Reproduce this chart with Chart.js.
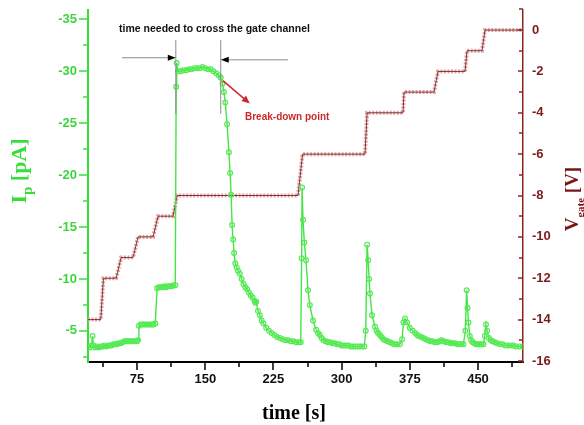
<!DOCTYPE html>
<html>
<head>
<meta charset="utf-8">
<script src="https://cdn.jsdelivr.net/npm/chart.js@4"></script>
<style>
  html, body { margin:0; padding:0; background:#fff; }
  #wrap { width:584px; height:425px; position:relative; }
</style>
</head>
<body>
<div id="wrap"><canvas id="chart"></canvas></div>
<script>
// photocurrent I_p [pA] (green trace)
const currentTime = [
  21,23,25,26,27,29,31,33,35,37,39,41,43,45,47,49,51,53,55,57,59,61,63,65,67,69,71,73,75,
  76,77,79,81,83,85,87,89,91,93,95,
  97,99,101,103,105,107,109,111,113,115,117,
  118,118.5,120,123,126,129,132,135,138,141,144,147,150,153,156,159,162,165,167,
  169,170.5,172,174,176,177.3,178.4,179.5,180.6,181.7,183,184.5,186,188,190,192,194,196,198,200,
  202,204,205,206,208,210,212,214,217,220,223,226,229,232,235,238,241,244,247,250,253,255,
  256,256.5,257.5,259,260.8,263,265,268.5,272,274,276,278,280,282.5,285,287.5,290,292.5,295,297.5,300,302.5,305,307.5,310,312.5,315,317.5,320,322.5,325,
  326.5,328,329.2,330.2,331.2,333.4,336.7,338.5,340,342,344,346,348,350.5,353,355.5,358,361,364,
  366.5,368,369.7,372,375,378,381,383,385,387.5,390,392.5,395,397.5,400,402.5,405,407.5,410,412.5,415,417.5,420,422.5,425,427.5,430,432,434,
  436,437.5,438.5,439.5,441,442.5,444,446,448,450,452,454,456,
  457.5,458.8,460,462,464,466,468.5,471,474,477,480,483,486,489,492,495.5,499
];
const currentValues = [
  -3.5,-3.4,-3.6,-4.5,-3.6,-3.4,-3.5,-3.4,-3.5,-3.5,-3.6,-3.5,-3.6,-3.6,-3.6,-3.7,-3.7,-3.7,-3.8,-3.8,-3.9,-4.0,-4.0,-4.0,-4.0,-4.0,-4.0,-4.0,-4.0,
  -4.1,-5.5,-5.6,-5.6,-5.6,-5.6,-5.6,-5.6,-5.6,-5.6,-5.7,
  -9.1,-9.2,-9.2,-9.2,-9.3,-9.2,-9.3,-9.3,-9.3,-9.4,-9.4,
  -28.5,-30.8,-30.0,-30.0,-30.1,-30.1,-30.2,-30.2,-30.3,-30.3,-30.3,-30.4,-30.3,-30.2,-30.2,-30.0,-29.8,-29.6,-29.4,
  -28.8,-28.0,-27.0,-24.9,-22.2,-20.2,-18.1,-15.2,-13.8,-12.5,-11.5,-11.1,-10.8,-10.5,-10.0,-9.5,-9.2,-9.0,-8.7,-8.4,
  -8.2,-7.9,-7.7,-7.8,-6.9,-6.5,-6.0,-5.7,-5.3,-5.0,-4.8,-4.6,-4.4,-4.3,-4.2,-4.1,-4.1,-4.0,-4.0,-3.9,-3.9,-3.9,
  -12.0,-18.8,-15.7,-13.5,-11.8,-8.9,-7.5,-6.0,-5.1,-4.8,-4.6,-4.3,-4.1,-4.0,-3.9,-3.9,-3.8,-3.8,-3.7,-3.7,-3.6,-3.6,-3.6,-3.6,-3.5,-3.5,-3.5,-3.5,-3.5,-3.5,-3.5,
  -5.0,-13.3,-11.8,-10.0,-8.6,-6.5,-5.4,-5.0,-4.8,-4.6,-4.4,-4.2,-4.1,-4.0,-3.9,-3.8,-3.7,-3.7,-3.7,
  -4.2,-5.8,-6.2,-5.8,-5.3,-5.0,-4.8,-4.6,-4.5,-4.4,-4.3,-4.2,-4.1,-4.0,-4.0,-3.9,-3.9,-4.0,-4.1,-4.0,-3.9,-3.9,-3.8,-3.8,-3.8,-3.7,-3.7,-3.7,-3.7,
  -5.0,-8.9,-7.2,-5.8,-4.5,-4.1,-3.9,-3.8,-3.7,-3.7,-3.7,-3.7,-3.7,
  -4.5,-5.6,-5.0,-4.3,-4.1,-4.0,-3.9,-3.8,-3.7,-3.7,-3.6,-3.6,-3.6,-3.6,-3.5,-3.5,-3.5
];

// gate voltage V_gate [V] (staircase corners)
const gateTime   = [21,35,38,52,57.4,70.6,76,92.6,98,114.6,119,252,257,325.7,328,367.5,368.6,401.6,406,435.7,437.9,454.4,457.7,499.5];
const gateValues = [-14,-14,-12,-12,-11,-11,-10,-10,-9,-9,-8,-8,-6,-6,-4,-4,-3,-3,-2,-2,-1,-1,0,0];

// ticks
const timeTicks = [37.5,75,112.5,150,187.5,225,262.5,300,337.5,375,412.5,450,487.5];
const timeLabels = [75,150,225,300,375,450];
const currentTicks = [-35,-32.5,-30,-27.5,-25,-22.5,-20,-17.5,-15,-12.5,-10,-7.5,-5,-2.5];
const currentLabels = [-35,-30,-25,-20,-15,-10,-5];
const gateTicks = [1,0,-1,-2,-3,-4,-5,-6,-7,-8,-9,-10,-11,-12,-13,-14,-15,-16];
const gateLabels = [0,-2,-4,-6,-8,-10,-12,-14,-16];

const GREEN = '#38de38';
const MAROON = '#8a2424';
const SANS = "'Liberation Sans', Arial, sans-serif";
const SERIF = "'Liberation Serif', 'Times New Roman', serif";

const currentPts = currentTime.map((t, i) => ({ x: t, y: currentValues[i] }));
const gatePts = gateTime.map((t, i) => ({ x: t, y: gateValues[i] }));

function drawArrow(ctx, x1, y1, x2, y2, lineColor, headColor, len, half, lw) {
  const ang = Math.atan2(y2 - y1, x2 - x1);
  ctx.strokeStyle = lineColor;
  ctx.lineWidth = lw;
  ctx.beginPath();
  ctx.moveTo(x1, y1);
  ctx.lineTo(x2 - Math.cos(ang) * len * 0.8, y2 - Math.sin(ang) * len * 0.8);
  ctx.stroke();
  ctx.fillStyle = headColor;
  ctx.beginPath();
  ctx.moveTo(x2, y2);
  ctx.lineTo(x2 - Math.cos(ang) * len - Math.sin(ang) * half, y2 - Math.sin(ang) * len + Math.cos(ang) * half);
  ctx.lineTo(x2 - Math.cos(ang) * len + Math.sin(ang) * half, y2 - Math.sin(ang) * len - Math.cos(ang) * half);
  ctx.closePath();
  ctx.fill();
}

// rotated title with a subscript part
function drawTitle(ctx, parts, cx, cy, color) {
  ctx.save();
  ctx.translate(cx, cy);
  ctx.rotate(-Math.PI / 2);
  ctx.fillStyle = color;
  ctx.textBaseline = 'alphabetic';
  ctx.textAlign = 'left';
  let total = 0;
  parts.forEach(p => { ctx.font = 'bold ' + p.size + 'px ' + SERIF; p.w = ctx.measureText(p.t).width; total += p.w; });
  let x = -total / 2;
  parts.forEach(p => {
    ctx.font = 'bold ' + p.size + 'px ' + SERIF;
    ctx.fillText(p.t, x, p.dy || 0);
    x += p.w;
  });
  ctx.restore();
}

// no extra room for half-height end labels
function noPad(s) {
  s.paddingTop = 0; s.paddingBottom = 0; s.paddingLeft = 0; s.paddingRight = 0;
}

const decor = {
  id: 'decor',
  afterDraw(chart) {
    const { ctx, chartArea: a, scales: { x, yI, yV } } = chart;
    ctx.save();

    // tick marks
    ctx.lineWidth = 1.5;
    ctx.strokeStyle = '#000';
    ctx.beginPath();
    timeTicks.forEach(v => {
      const px = Math.round(x.getPixelForValue(v));
      ctx.moveTo(px, a.bottom);
      ctx.lineTo(px, a.bottom + (timeLabels.includes(v) ? 8 : 5));
    });
    ctx.stroke();
    ctx.strokeStyle = GREEN;
    ctx.beginPath();
    currentTicks.forEach(v => {
      const py = Math.round(yI.getPixelForValue(v));
      ctx.moveTo(a.left, py);
      ctx.lineTo(a.left - (currentLabels.includes(v) ? 9 : 5), py);
    });
    ctx.stroke();
    ctx.strokeStyle = MAROON;
    ctx.beginPath();
    gateTicks.forEach(v => {
      const py = Math.round(yV.getPixelForValue(v));
      ctx.moveTo(a.right, py);
      ctx.lineTo(a.right - (gateLabels.includes(v) ? 5 : 4), py);
    });
    ctx.stroke();

    // axis titles
    drawTitle(ctx, [{ t: 'I', size: 22 }, { t: 'p', size: 15, dy: 6 }, { t: ' [pA]', size: 22 }], a.left - 62, 171, GREEN);
    drawTitle(ctx, [{ t: 'V', size: 19 }, { t: 'gate', size: 11, dy: 6 }, { t: ' [V]', size: 19 }], a.right + 55, 199, '#7a1414');
    ctx.fillStyle = '#000';
    ctx.font = 'bold 20px ' + SERIF;
    ctx.textAlign = 'center';
    ctx.textBaseline = 'alphabetic';
    ctx.fillText('time [s]', 294, a.bottom + 57);

    // annotation: gate channel crossing time
    const xs = x.getPixelForValue(117.6), xe = x.getPixelForValue(167);
    ctx.strokeStyle = '#8c8c8c';
    ctx.lineWidth = 1;
    ctx.beginPath();
    ctx.moveTo(xs, yI.getPixelForValue(-33)); ctx.lineTo(xs, yI.getPixelForValue(-25.9));
    ctx.moveTo(xe, yI.getPixelForValue(-33)); ctx.lineTo(xe, yI.getPixelForValue(-25.9));
    ctx.stroke();
    drawArrow(ctx, x.getPixelForValue(58.5), yI.getPixelForValue(-31.3), xs, yI.getPixelForValue(-31.3), '#8c8c8c', '#000', 8, 3, 1);
    drawArrow(ctx, x.getPixelForValue(241), yI.getPixelForValue(-31.1), xe, yI.getPixelForValue(-31.1), '#8c8c8c', '#000', 8, 3, 1);
    ctx.fillStyle = '#111';
    ctx.font = 'bold 10.5px ' + SANS;
    ctx.textAlign = 'left';
    ctx.textBaseline = 'middle';
    ctx.fillText('time needed to cross the gate channel', x.getPixelForValue(55.2), yI.getPixelForValue(-34.1));

    // annotation: break-down point
    drawArrow(ctx, x.getPixelForValue(169.3), yI.getPixelForValue(-29.1), x.getPixelForValue(199), yI.getPixelForValue(-26.9), '#cc2a2a', '#cc2a2a', 8, 3.5, 1.5);
    ctx.fillStyle = '#cc2a2a';
    ctx.font = 'bold 10px ' + SANS;
    ctx.fillText('Break-down point', x.getPixelForValue(193.7), yI.getPixelForValue(-25.6));

    ctx.restore();
  }
};

new Chart(document.getElementById('chart'), {
  type: 'line',
  data: {
    datasets: [
      {
        label: 'I_p',
        data: currentPts,
        yAxisID: 'yI',
        borderColor: '#45e445',
        borderWidth: 1.4,
        pointStyle: 'circle',
        pointRadius: 2.4,
        pointBorderWidth: 1.2,
        pointBorderColor: '#55ea55',
        pointBackgroundColor: 'rgba(255,255,255,0)',
        tension: 0
      },
      {
        label: 'V_gate',
        data: gatePts,
        yAxisID: 'yV',
        borderColor: '#6e2626',
        borderWidth: 0.9,
        pointRadius: 0,
        tension: 0
      },
      {
        label: 'V_gate markers',
        data: gatePts,
        yAxisID: 'yV',
        borderColor: '#e7a3a3',
        borderWidth: 4,
        borderDash: [2, 1.5],
        pointRadius: 0,
        tension: 0
      }
    ]
  },
  options: {
    responsive: true,
    maintainAspectRatio: false,
    animation: false,
    events: [],
    layout: { padding: { top: 10, left: 0, right: 0, bottom: 0 } },
    plugins: { legend: { display: false }, tooltip: { enabled: false } },
    scales: {
      x: {
        type: 'linear',
        position: 'bottom',
        min: 21,
        max: 499.5,
        afterBuildTicks: s => { s.ticks = timeTicks.map(v => ({ value: v })); },
        afterFit: s => { s.height = 63; noPad(s); },
        grid: { display: false, drawTicks: false },
        border: { display: true, color: '#000', width: 2 },
        ticks: {
          autoSkip: false,
          maxRotation: 0,
          padding: 10,
          color: '#111',
          font: { family: SANS, size: 13, weight: 'bold' },
          callback: v => timeLabels.includes(v) ? String(v) : ''
        }
      },
      yI: {
        type: 'linear',
        position: 'left',
        reverse: true,
        min: -35.9,
        max: -2,
        afterBuildTicks: s => { s.ticks = currentTicks.map(v => ({ value: v })); },
        afterFit: s => { s.width = 88; noPad(s); },
        grid: { display: false, drawTicks: false },
        border: { display: true, color: GREEN, width: 2 },
        ticks: {
          autoSkip: false,
          padding: 11,
          color: '#3cd63c',
          font: { family: SANS, size: 13, weight: 'bold' },
          callback: v => currentLabels.includes(v) ? String(v) : ''
        }
      },
      yV: {
        type: 'linear',
        position: 'right',
        min: -16.05,
        max: 0.97,
        afterBuildTicks: s => { s.ticks = gateTicks.map(v => ({ value: v })); },
        afterFit: s => { s.width = 61; noPad(s); },
        grid: { display: false, drawTicks: false },
        border: { display: true, color: MAROON, width: 1.5 },
        ticks: {
          autoSkip: false,
          padding: 9,
          color: '#7a1c1c',
          font: { family: SANS, size: 13, weight: 'bold' },
          callback: v => gateLabels.includes(v) ? String(v) : ''
        }
      }
    }
  },
  plugins: [decor]
});
</script>
</body>
</html>
